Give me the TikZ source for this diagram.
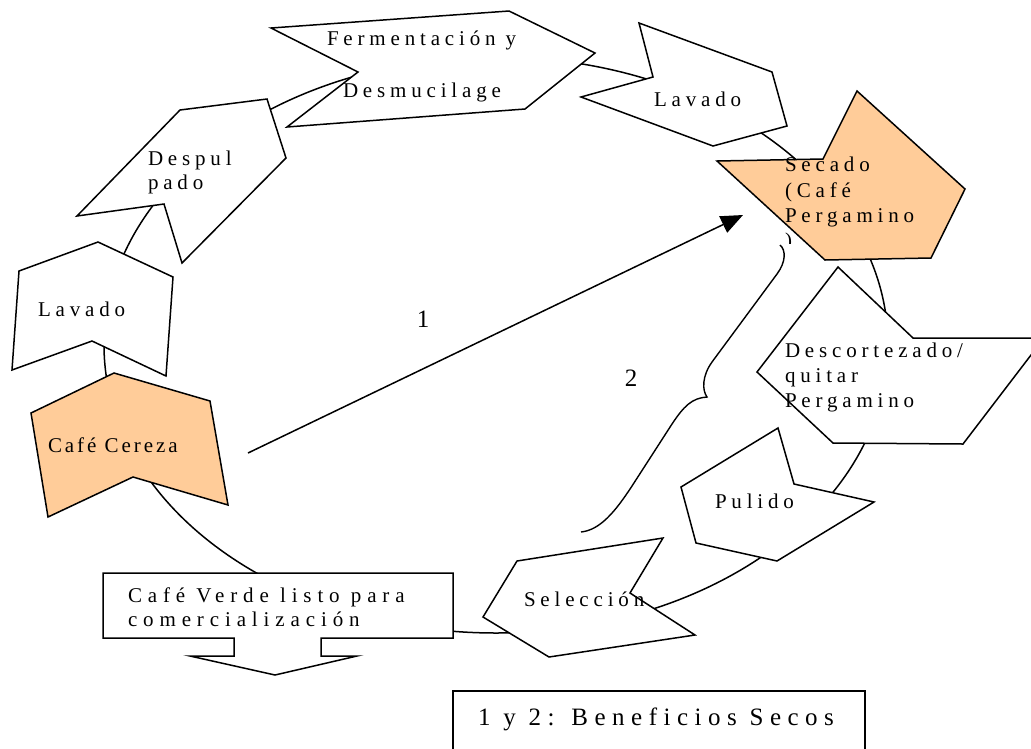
\documentclass[tikz,border=0pt]{standalone}
\usepackage{fontspec}
\setmainfont{Liberation Serif}[LetterSpace=23]
\newfontfamily\plainserif{Liberation Serif}
\newfontfamily\legfont{Liberation Serif}[LetterSpace=26]
\newfontfamily\widefont{Liberation Serif}[LetterSpace=28]
\newfontfamily\tightfont{Liberation Serif}[LetterSpace=14]
\usetikzlibrary{arrows.meta}
\definecolor{peach}{HTML}{FFCC99}
\begin{document}
\begin{tikzpicture}[x=1pt,y=-1pt,
  shp/.style={draw=black,line width=1.5pt,fill=white,line join=miter},
  hot/.style={shp,fill=peach},
  conn/.style={draw=black,line width=1.5pt},
  lbl/.style={anchor=base west,inner sep=0pt,outer sep=0pt,font=\fontsize{21}{25}\selectfont},
  widelbl/.style={lbl,font=\widefont\fontsize{21}{25}\selectfont},
  tightlbl/.style={lbl,font=\tightfont\fontsize{21}{25}\selectfont},
  leglbl/.style={lbl,font=\legfont\fontsize{25}{29}\selectfont},
  num/.style={anchor=base,inner sep=0pt,outer sep=0pt,font=\plainserif\fontsize{25}{30}\selectfont}]
\useasboundingbox (0,0) rectangle (1031,748);
\clip (0,0) rectangle (1031,748);
\fill[white] (0,0) rectangle (1031,748);

% cycle connector behind the steps
\draw[conn] (496,345) ellipse [x radius=392pt, y radius=288pt];

% steps
\draw[shp] (271,28) -- (509,11) -- (595,53) -- (525,109) -- (287,127) -- (358,72) -- cycle;
\draw[shp] (639,23) -- (772,72) -- (787,126) -- (713,146) -- (581,97) -- (653,77) -- cycle;
\draw[hot] (857,91) -- (965,189) -- (931,258) -- (825,260) -- (717,161) -- (823,159) -- cycle;
\draw[shp] (838,267) -- (913,338) -- (1044,338) -- (963,444) -- (833,443) -- (757,372) -- cycle;
\draw[shp] (778,428) -- (794,484) -- (874,502) -- (777,561) -- (696,543) -- (681,487) -- cycle;
\draw[shp] (517,561) -- (663,538) -- (630,593) -- (695,635) -- (549,657) -- (483,617) -- cycle;
\draw[shp] (103,573) -- (453,573) -- (453,638) -- (321,638) -- (321,656) -- (357,656) -- (275,675)
  -- (190,656) -- (234,656) -- (234,638) -- (103,638) -- cycle;
\draw[hot] (114,373) -- (210,401) -- (228,505) -- (133,477) -- (48,517) -- (31,413) -- cycle;
\draw[shp] (98,242) -- (173,277) -- (166,376) -- (92,341) -- (12,370) -- (19,271) -- cycle;
\draw[shp] (180,110) -- (267,99) -- (286,158) -- (182,263) -- (164,204) -- (77,216) -- cycle;

% legend box
\draw[shp] (453,691) rectangle (865,770);

% arrow 1
\coordinate (a1s) at (248,453);
\coordinate (a1e) at (743,215);
\draw[conn,-{Triangle[length=22pt,width=18pt]}] (a1s) -- (a1e);

% brace 2
\coordinate (b2top) at (780,245);
\coordinate (b2mid) at (707,397);
\coordinate (b2bot) at (581,532);
\draw[conn,line width=1.4pt] (b2top) .. controls (786,250) and (786,262) .. (777,274) -- (712,362)
  .. controls (702,376) and (702,390) .. (b2mid)
  .. controls (692,398) and (684,406) .. (672,424) -- (632,486)
  .. controls (615,512) and (600,530) .. (b2bot);

% texts
\node[lbl] (tf1) at (327,45) {Fermentación y};
\node[lbl] (tf2) at (343,97) {Desmucilage};
\node[lbl] (tl1) at (654,106) {Lavado};
\node[lbl] (ts1) at (785,171) {Secado};
\node[lbl] (ts2) at (785,197) {(Café};
\node[lbl] (ts3) at (785,222) {Pergamino};
\begin{scope}
  \clip (775,229) rectangle (800,243);
  \node[lbl] (ts4) at (785,247) {)};
\end{scope}
\node[lbl] (td1) at (785,357) {Descortezado/};
\node[lbl] (td2) at (785,382) {quitar};
\node[lbl] (td3) at (785,407) {Pergamino};
\node[lbl] (tp) at (715,508) {Pulido};
\node[lbl] (tse) at (524,606) {Selección};
\node[widelbl] (tv1) at (128,602) {Café Verde listo para};
\node[widelbl] (tv2) at (128,626) {comercialización};
\node[tightlbl] (tc) at (48,452) {Café Cereza};
\node[lbl] (tl2) at (38,316) {Lavado};
\node[lbl] (tdp1) at (148,165) {Despul};
\node[lbl] (tdp2) at (148,189) {pado};
\node[num] (n1) at (423,327) {1};
\node[num] (n2) at (631,386) {2};
\node[leglbl] (leg) at (478,725) {1 y 2: Beneficios Secos};
\end{tikzpicture}
\end{document}
